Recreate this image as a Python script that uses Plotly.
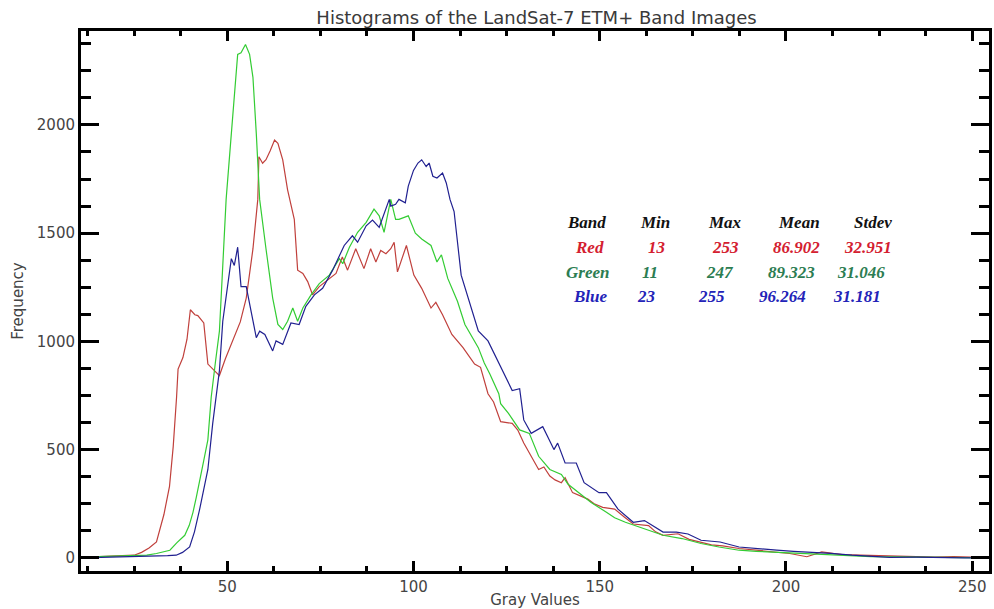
import plotly.graph_objects as go

# ---------------- data ----------------
red_x = [11, 15, 20, 25, 27, 29, 31, 33, 34.5, 35.5, 36.4, 36.8, 38.1, 39.2, 40.1, 41.3, 42.1, 43.7,
         44.8, 46.6, 47.9, 49.5, 51.5, 53.5, 55.1, 56.9, 58.2, 58.5, 59.5, 60.4, 61.5, 62.7, 63.6,
         64.9, 66.2, 68, 68.9, 70.3, 71.6, 72.9, 74.7, 76, 77.4, 79.2, 80.9, 82.3, 84.5, 86.7, 88.5,
         89.9, 91.2, 92.6, 93.9, 94.8, 95.7, 96.5, 98.1, 100.1, 102.2, 104.7, 106, 107.8, 110.3,
         113.3, 116.4, 118, 120, 121.5, 123.4, 126.5, 128, 129.6, 131.5, 133.6, 135, 136.6, 138,
         139.7, 140.7, 142.7, 146.8, 148.5, 150.8, 154, 156.5, 159, 163.1, 165, 167, 171, 174,
         177.2, 180, 183, 187.4, 192, 197.5, 201, 205.6, 209.6, 215, 220, 225, 230, 235, 240, 245,
         250, 254.5]
red_y = [2, 5, 8, 12, 25, 45, 73, 200, 330, 515, 743, 872, 925, 1010, 1146, 1123, 1119, 1085,
         895, 865, 842, 920, 1002, 1090, 1200, 1427, 1656, 1853, 1823, 1839, 1880, 1930, 1915,
         1839, 1700, 1564, 1329, 1314, 1276, 1215, 1253, 1270, 1291, 1314, 1390, 1329, 1428, 1336,
         1428, 1367, 1420, 1405, 1428, 1458, 1321, 1360, 1443, 1306, 1245, 1154, 1180, 1123, 1032,
         971, 895, 880, 758, 720, 629, 621, 590, 530, 470, 408, 420, 378, 360, 347, 370, 301, 271,
         250, 233, 225, 190, 156, 149, 120, 104, 111, 85, 73, 60, 55, 43, 35, 27, 20, 5, 27, 15,
         12, 10, 6, 4, 3, 5, 2, 1]

green_x = [11, 15, 20, 25, 28.4, 31, 33, 34.6, 36.5, 38.6, 39.8, 40.8, 41.7, 42.6, 43.7, 44.8,
           45.7, 46.8, 47.9, 48.8, 49.7, 51.1, 52, 52.8, 53.7, 54.9, 56, 56.9, 57.8, 58.7, 60.4,
           62.2, 63.6, 64.9, 66.2, 67.6, 68.9, 70.3, 72.5, 74.7, 77.4, 80.1, 81, 82.8, 85, 87.3,
           89.4, 90.8, 92.1, 93.9, 95.2, 96.1, 98.6, 100.5, 102.2, 104.7, 106.3, 107.5, 109.2,
           111.8, 113.8, 115.5, 117.4, 119, 120.5, 122.9, 123.4, 125.5, 128.5, 131.1, 133.6, 136.6,
           139.7, 141.5, 143.7, 147.7, 151.8, 154, 156.9, 162, 167, 172.1, 177.2, 182, 187.4, 192,
           197.5, 205, 212, 222.8, 230, 240, 250, 254.5]
green_y = [3, 5, 8, 10, 12, 20, 28, 35, 70, 104, 150, 210, 280, 363, 450, 545,
           743, 900, 1047, 1350, 1656, 1960, 2150, 2326, 2333, 2372, 2326, 2220, 1960, 1656, 1428,
           1200, 1078, 1055, 1093, 1154, 1093, 1154, 1215, 1267, 1306, 1382, 1359, 1435, 1504, 1550,
           1611, 1580, 1504, 1656, 1564, 1564, 1580, 1500, 1473, 1443, 1367, 1400, 1291,
           1185, 1078, 1030, 971, 900, 849, 758, 712, 667, 591, 575, 469, 408,
           385, 340, 309, 256, 210, 185, 164, 134, 104, 89, 66, 50, 35, 30,
           25, 20, 12, 5, 4, 2, 1, 0]

blue_x = [11, 20, 25, 30, 34, 36.3, 38, 39.9, 41.2, 42.6, 43.7, 44.8, 46.1, 47, 47.9, 48.8, 50,
          51.1, 51.9, 52.8, 53.7, 55.1, 56.5, 57.8, 58.7, 60.1, 62.2, 63.1, 64.9, 67.1, 69.3, 71.1,
          73.4, 75.6, 78.3, 80, 81.4, 83.6, 85, 87.3, 89, 90.8, 92.6, 93.5, 93.9, 95.2, 96.1, 97.8,
          98.6, 100, 101.2, 102.2, 103.4, 104.2, 105.2, 106.3, 107.8, 108.8, 109.8, 110.9, 112.8,
          115.4, 117.4, 120, 121.5, 123.4, 126.5, 128.5, 129.6, 131.6, 134.7, 136, 137.7, 138.7,
          140.7, 143.7, 145.8, 149.8, 151.8, 154.9, 159, 162, 167, 170.6, 173.7, 177.2, 182.3,
          187.4, 192, 197.5, 202, 207.6, 212, 217.7, 222, 227.8, 235, 240, 248, 254.5]
blue_y = [0, 3, 5, 8, 10, 12, 25, 50, 120, 225, 310, 408, 621, 743, 865, 1093, 1250,
          1382, 1351, 1435, 1253, 1253, 1130, 1017, 1047, 1032, 956, 1002, 986, 1085, 1078, 1162,
          1215, 1245, 1329, 1390, 1443, 1488, 1458, 1534, 1560, 1527, 1611, 1656, 1625, 1633, 1656, 1640,
          1717, 1790, 1824, 1839, 1808, 1824, 1763, 1755, 1778, 1732, 1656, 1600, 1306,
          1154, 1048, 1002, 950, 880, 773, 781, 637, 575, 606, 560, 500, 530,
          438, 438, 347, 301, 301, 225, 164, 172, 119, 119, 110, 81, 73,
          50, 42, 35, 30, 25, 20, 12, 8, 2, 3, 1, 0, 0]

table_header = ["Band", "Min", "Max", "Mean", "Stdev"]
table_rows = [
    ["Red", "13", "253", "86.902", "32.951"],
    ["Green", "11", "247", "89.323", "31.046"],
    ["Blue", "23", "255", "96.264", "31.181"],
]
row_colors = ["#d42030", "#2c7d52", "#2323b8"]
line_colors = ["#c0403c", "#33cc33", "#202090"]

x_range = [10.74, 254.5]
y_range = [-61, 2434]

# ---------------- figure ----------------
fig = go.Figure()
for xs, ys, col, name in [(red_x, red_y, line_colors[0], "Red"),
                          (green_x, green_y, line_colors[1], "Green"),
                          (blue_x, blue_y, line_colors[2], "Blue")]:
    fig.add_trace(go.Scatter(x=xs, y=ys, mode="lines", name=name,
                             line=dict(color=col, width=1.2), showlegend=False))

W, H = 994, 609
ml, mr, mt, mb = 81, 2, 31, 32
pw, ph = W - ml - mr, H - mt - mb

def px_to_paper(px, py):
    return (px - ml) / pw, (H - mb - py) / ph

col_px = [588, 657, 727, 801, 876]
row_py = [225, 250, 275, 299]
anns = []
for j, txt in enumerate(table_header):
    xp, yp = px_to_paper(col_px[j], row_py[0])
    anns.append(dict(x=xp, y=yp, xref="paper", yref="paper", text="<b><i>%s</i></b>" % txt,
                     showarrow=False, xanchor="center", yanchor="middle",
                     font=dict(family="Liberation Serif", size=17, color="#111111")))
row_offsets = [[3, 2, 1, -2, -5], [1, -5, -5, -7, -12], [4, -9, -13, -16, -16]]
for i, row in enumerate(table_rows):
    for j, txt in enumerate(row):
        xp, yp = px_to_paper(col_px[j] + row_offsets[i][j], row_py[i + 1])
        anns.append(dict(x=xp, y=yp, xref="paper", yref="paper", text="<b><i>%s</i></b>" % txt,
                         showarrow=False, xanchor="center", yanchor="middle",
                         font=dict(family="Liberation Serif", size=17, color=row_colors[i])))

axis_font = dict(family="DejaVu Sans", size=15, color="#444444")
fig.update_layout(
    width=W, height=H,
    margin=dict(l=ml, r=mr, t=mt, b=mb),
    paper_bgcolor="white", plot_bgcolor="white",
    title=dict(text="Histograms of the LandSat-7 ETM+ Band Images", x=(ml + pw / 2) / W,
               xanchor="center", y=1 - 18 / H, yanchor="middle",
               font=dict(family="DejaVu Sans", size=18, color="#3a3a3a")),
    annotations=anns,
    xaxis=dict(range=x_range, tickmode="linear", tick0=0, dtick=50,
               ticks="inside", ticklen=10, tickwidth=2.5, tickcolor="black",
               showline=True, linecolor="black", linewidth=3, mirror="allticks",
               showgrid=False, zeroline=False, tickfont=axis_font,
               minor=dict(tickmode="linear", tick0=0, dtick=12.5, ticks="inside", ticklen=5,
                          tickwidth=2.5, tickcolor="black", showgrid=False),
               title=dict(text="Gray Values", font=axis_font, standoff=0)),
    yaxis=dict(range=y_range, tickmode="linear", tick0=0, dtick=500,
               ticks="inside", ticklen=18, tickwidth=2.5, tickcolor="black",
               showline=True, linecolor="black", linewidth=3, mirror="allticks",
               showgrid=False, zeroline=False, tickfont=axis_font,
               minor=dict(tickmode="linear", tick0=0, dtick=125, ticks="inside", ticklen=10,
                          tickwidth=2.5, tickcolor="black", showgrid=False),
               title=dict(text="Frequency", font=axis_font, standoff=10)),
)

fig.write_html("out.html")
